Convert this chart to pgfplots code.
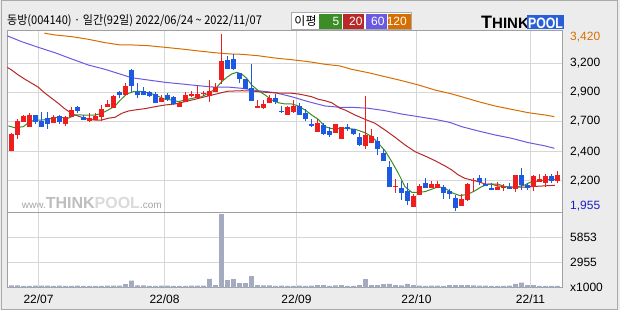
\documentclass[border=0pt]{standalone}
\usepackage{pgfplots}
\pgfplotsset{compat=1.18}
\usepackage{pgfplotstable}
\usepackage{fontspec}
\setmainfont{Liberation Sans}
\newfontfamily\kr{Noto Sans CJK KR}
\definecolor{cUp}{RGB}{238,30,30}
\definecolor{cDn}{RGB}{30,90,225}
\definecolor{cMAa}{RGB}{60,140,40}
\definecolor{cMAb}{RGB}{185,40,40}
\definecolor{cMAc}{RGB}{105,90,225}
\definecolor{cMAd}{RGB}{215,110,0}
\definecolor{cVol}{RGB}{164,171,192}
\definecolor{cGrid}{RGB}{215,215,215}
\definecolor{cFrame}{RGB}{160,160,160}
\definecolor{cBg}{RGB}{236,236,236}
\definecolor{cOuter}{RGB}{170,170,170}
\definecolor{cLow}{RGB}{30,30,200}
\definecolor{cLogo}{RGB}{40,95,215}
\definecolor{cWma}{RGB}{165,165,165}
\definecolor{cWmb}{RGB}{190,190,190}
\definecolor{cWmc}{RGB}{218,218,218}

\pgfplotstableread{
i o h l c
0 2449 2596 2447 2588
1 2580 2710 2544 2699
2 2688 2746 2688 2738
3 2649 2763 2649 2744
7 2680 2746 2680 2730
9 2669 2738 2657 2727
10 2727 2810 2727 2788
13 2699 2760 2690 2719
14 2704 2760 2704 2738
15 2727 2829 2699 2793
16 2810 2871 2810 2838
17 2802 2913 2802 2904
19 2913 3015 2913 2987
25 2857 2913 2857 2885
28 2815 2854 2815 2843
29 2857 2937 2857 2910
30 2907 2948 2895 2918
31 2890 2987 2885 2918
32 2921 2946 2904 2929
33 2907 3037 2857 2946
34 2937 3010 2937 2977
35 3037 3420 3004 3195
41 2807 2871 2807 2821
42 2804 2871 2796 2838
43 2843 2910 2843 2888
46 2749 2821 2749 2810
47 2774 2871 2765 2821
51 2605 2710 2605 2682
54 2599 2671 2599 2669
55 2549 2649 2549 2649
59 2488 2904 2463 2577
60 2516 2632 2516 2569
64 2145 2214 2100 2158
67 1983 2089 1983 2072
68 2083 2172 2083 2155
70 2139 2194 2139 2172
71 2139 2194 2139 2172
75 1992 2086 1992 2047
76 2039 2180 2033 2175
77 2197 2219 2108 2208
81 2120 2186 2120 2147
82 2139 2170 2114 2150
84 2128 2247 2108 2247
87 2147 2244 2116 2239
88 2191 2253 2189 2214
89 2183 2253 2150 2239
91 2200 2280 2180 2247
}\upT

\pgfplotstableread{
i o h l c
4 2744 2744 2669 2690
5 2699 2774 2646 2646
6 2721 2771 2630 2671
8 2738 2746 2669 2690
11 2815 2821 2765 2782
12 2727 2746 2704 2704
18 2937 2948 2885 2915
20 3120 3131 2940 2990
21 2940 3015 2885 2910
22 2946 2977 2910 2910
23 2937 2948 2898 2907
24 2918 2937 2843 2843
26 2913 2927 2865 2879
27 2893 2904 2827 2835
36 3204 3237 3131 3131
37 3212 3254 3120 3129
38 3098 3098 3010 3048
39 3046 3046 2960 2960
40 2971 3170 2865 2865
44 2888 2921 2838 2854
45 2782 2821 2760 2774
48 2821 2843 2749 2749
49 2760 2793 2699 2710
50 2671 2710 2649 2657
52 2660 2682 2582 2591
53 2613 2649 2566 2580
56 2646 2669 2613 2627
57 2630 2630 2580 2588
58 2561 2594 2488 2499
61 2527 2561 2416 2466
62 2427 2463 2366 2366
63 2313 2363 2150 2150
65 2139 2197 2039 2097
66 2111 2183 2000 2033
69 2180 2222 2139 2139
72 2145 2166 2050 2100
73 2111 2133 2045 2089
74 2058 2081 1950 1970
78 2222 2247 2164 2189
79 2175 2224 2155 2158
80 2141 2180 2120 2120
83 2150 2178 2128 2128
85 2247 2305 2120 2161
86 2164 2180 2122 2141
90 2239 2255 2178 2197
}\dnT

\pgfplotstableread{
i v
0 270
1 270
2 200
3 200
4 230
5 230
6 230
7 200
8 230
9 200
10 200
11 230
12 200
13 200
14 200
15 200
16 230
17 230
18 230
19 400
20 810
21 270
22 270
23 200
24 200
25 230
26 230
27 200
28 200
29 200
30 230
31 230
32 230
33 1010
34 300
35 8540
36 890
37 1000
38 540
39 540
40 1350
41 300
42 270
43 270
44 200
45 230
46 200
47 200
48 230
49 200
50 230
51 300
52 300
53 200
54 270
55 300
56 200
57 200
58 300
59 1000
60 300
61 300
62 400
63 430
64 300
65 270
66 430
67 300
68 230
69 200
70 230
71 230
72 200
73 300
74 300
75 300
76 300
77 270
78 230
79 230
80 200
81 200
82 200
83 230
84 430
85 600
86 300
87 300
88 200
89 200
90 200
91 200
}\volT

\pgfplotsset{chart/.style={
  scale only axis, width=554.5pt,
  xmin=-0.67, xmax=91.75, enlargelimits=false,
  axis line style={draw=cFrame, line width=1pt},
  xmajorgrids, ymajorgrids,
  grid style={draw=cGrid, line width=1pt},
  major tick length=0pt,
  xtick={4.5,25.5,47.5,67.5,86.5},
  yticklabel pos=right,
  tick label style={font=\fontsize{12}{14}\selectfont, inner sep=0pt},
  yticklabel style={anchor=west, xshift=8pt},
}}

\begin{document}
\begin{tikzpicture}
\useasboundingbox (0,0) rectangle (620pt,310pt);
\fill[cBg] (0,0) rectangle (620pt,310pt);
\draw[cOuter, line width=1pt] (1.5pt,0.8pt) rectangle (617pt,309.2pt);
\fill[white] (7.5pt,22.3pt) rectangle (562pt,279pt);

% title
\node[anchor=west, inner sep=0pt, font=\kr\fontsize{12}{14}\selectfont, xscale=0.92] at (7pt,289pt)
  {동방(004140) · 일간(92일) 2022/06/24 \textasciitilde\ 2022/11/07};

% legend
\draw[cOuter, fill=white, line width=1pt] (291pt,280pt) rectangle (411.5pt,297pt);
\fill[cMAa] (319pt,280.7pt) rectangle (341.7pt,296.3pt);
\fill[cMAb] (342.7pt,280.7pt) rectangle (364.3pt,296.3pt);
\fill[cMAc] (365.7pt,280.7pt) rectangle (386.7pt,296.3pt);
\fill[cMAd] (387.7pt,280.7pt) rectangle (410.7pt,296.3pt);
\node[inner sep=0pt, font=\kr\fontsize{12}{14}\selectfont] at (305.5pt,288.5pt) {이평};
\node[anchor=east, inner sep=0pt, text=white, font=\fontsize{12}{14}\selectfont] at (339.5pt,288.5pt) {5};
\node[anchor=east, inner sep=0pt, text=white, font=\fontsize{12}{14}\selectfont] at (362.7pt,288.5pt) {20};
\node[anchor=east, inner sep=0pt, text=white, font=\fontsize{12}{14}\selectfont] at (384.7pt,288.5pt) {60};
\node[anchor=east, inner sep=0pt, text=white, font=\fontsize{12}{14}\selectfont] at (407pt,288.5pt) {120};

% logo
\node[anchor=base west, inner sep=0pt, font=\bfseries] at (481pt,281.7pt)
  {{\fontsize{18}{18}\selectfont T}{\fontsize{15}{15}\selectfont HINK}};
\fill[cLogo] (527pt,280.7pt) rectangle (564pt,295pt);
\node[anchor=base, inner sep=0pt, text=white, font=\bfseries\fontsize{15}{15}\selectfont, xscale=0.82] at (545.5pt,281.9pt) {POOL};

% watermark
\node[anchor=base west, inner sep=0pt] at (21.7pt,101.5pt)
  {\textcolor{cWma}{\fontsize{10}{10}\selectfont www.}\textcolor{cWmb}{\bfseries\fontsize{16}{16}\selectfont THINK}\textcolor{cWmc}{\bfseries\fontsize{16}{16}\selectfont POOL}\textcolor{cWma}{\fontsize{10}{10}\selectfont .com}};

% price panel
\begin{axis}[chart,
  at={(7.5pt,97.3pt)}, anchor=south west, height=181.7pt,
  ymin=1933, ymax=3445,
  xticklabels={},
  ytick={2199,2441,2696,2935,3176},
  yticklabels={{2,200},{2,400},{2,700},{2,900},{3,200}},
  extra y ticks={1989,3392},
  extra y tick labels={{\textcolor{cLow}{1,955}},{\textcolor{cMAd}{3,420}}},
  extra y tick style={grid=none},
]
\addplot[cMAd, line width=1pt] coordinates {
(5.47,3427)(7.25,3412)(10.03,3398)(12.8,3376)(15.58,3348)(18.08,3329)(20.03,3329)(22.8,3323)(25.58,3309)(28.37,3295)(31.13,3279)(33.92,3264)(36.42,3254)(38.37,3251)(41.13,3239)(43.92,3220)(46.7,3206)(49.47,3190)(52.25,3168)(54.75,3154)(56.7,3126)(59.47,3098)(62.25,3065)(65.03,3032)(67.8,2996)(70.58,2954)(73.08,2925)(75.03,2898)(77.8,2857)(80.58,2821)(83.37,2793)(86.13,2765)(88.92,2746)(90.47,2732)};
\addplot[cMAc, line width=1pt] coordinates {
(-1.08,3412)(1.7,3356)(4.47,3309)(7.25,3264)(10.03,3212)(12.8,3162)(15.58,3126)(18.08,3087)(20.03,3056)(22.8,3037)(25.58,3018)(28.37,3004)(31.13,2990)(33.92,2977)(36.42,2977)(38.37,2968)(41.13,2948)(43.92,2932)(46.7,2898)(49.47,2857)(52.25,2821)(54.75,2810)(56.7,2810)(59.47,2802)(62.25,2782)(65.03,2754)(67.8,2732)(70.58,2710)(73.08,2684)(75.03,2649)(77.8,2613)(80.58,2580)(83.37,2552)(86.13,2516)(88.92,2489)(90.47,2469)};
\addplot[cMAb, line width=1pt] coordinates {
(-1.08,3154)(0.03,3120)(1.13,3079)(2.25,3043)(3.37,3010)(4.47,2977)(5.58,2927)(6.7,2885)(7.8,2843)(8.92,2796)(9.75,2769)(10.58,2746)(11.7,2727)(12.8,2710)(13.92,2704)(15.03,2704)(16.13,2719)(17.25,2727)(18.37,2760)(19.47,2779)(20.58,2788)(22.25,2799)(23.92,2815)(25.58,2829)(27.25,2838)(28.92,2857)(30.58,2877)(32.25,2898)(33.92,2918)(35.03,2932)(36.08,2944)(38.37,2948)(40.03,2946)(41.7,2937)(43.37,2932)(45.03,2927)(46.7,2927)(47.8,2921)(48.92,2910)(50.03,2898)(51.13,2877)(52.25,2865)(53.37,2848)(53.92,2830)(54.75,2802)(55.58,2788)(57.25,2746)(58.92,2710)(60.58,2677)(62.25,2621)(63.92,2561)(65.58,2497)(67.25,2441)(68.92,2405)(70.58,2366)(72.25,2322)(73.37,2289)(74.47,2247)(75.58,2219)(76.7,2205)(77.8,2191)(78.92,2172)(80.03,2170)(81.13,2155)(82.25,2150)(83.92,2145)(85.58,2145)(86.7,2150)(88.37,2155)(90.58,2161)};
\addplot[cMAa, line width=1pt] coordinates {
(-0.53,2655)(0.58,2640)(1.97,2649)(2.97,2688)(3.92,2704)(5.03,2704)(6.13,2710)(7.25,2727)(8.37,2724)(9.47,2719)(10.58,2746)(11.7,2746)(13.08,2744)(13.92,2746)(15.03,2760)(16.13,2788)(17.25,2821)(18.08,2867)(19.2,2921)(20.3,2940)(21.42,2943)(22.8,2932)(23.92,2913)(25.58,2877)(26.7,2871)(27.8,2857)(28.92,2871)(30.58,2890)(31.7,2898)(32.8,2927)(33.92,2960)(35.03,3023)(35.9,3060)(36.7,3087)(37.53,3101)(38.37,3087)(39.2,3051)(40.03,2996)(41.13,2948)(42.25,2913)(43.37,2871)(44.47,2848)(45.58,2838)(46.7,2838)(47.8,2821)(48.92,2788)(50.03,2746)(51.13,2710)(52.25,2649)(53.37,2632)(54.75,2634)(55.58,2636)(57.25,2627)(58.92,2599)(60.03,2566)(61.13,2511)(62.25,2449)(63.37,2358)(64.47,2261)(65.58,2150)(66.7,2103)(67.8,2103)(68.92,2108)(70.03,2128)(71.13,2150)(72.25,2136)(73.37,2100)(74.75,2075)(76.13,2087)(77.25,2116)(78.37,2150)(79.47,2170)(81.13,2170)(82.25,2150)(83.37,2145)(84.47,2150)(85.58,2164)(86.42,2186)(87.25,2191)(88.92,2205)(91,2213)};
% wicks
\addplot[draw=none, mark=none, forget plot,
  error bars/.cd, y dir=plus, y explicit, error mark=none,
  error bar style={draw=cUp, line width=1pt}]
  table[x=i, y=l, y error plus expr=\thisrow{h}-\thisrow{l}] {\upT};
\addplot[draw=none, mark=none, forget plot,
  error bars/.cd, y dir=plus, y explicit, error mark=none,
  error bar style={draw=cDn, line width=1pt}]
  table[x=i, y=l, y error plus expr=\thisrow{h}-\thisrow{l}] {\dnT};
% bodies
\addplot[draw=none, mark=none, forget plot,
  error bars/.cd, y dir=plus, y explicit, error mark=none,
  error bar style={draw=cUp, line width=5pt}]
  table[x=i, y=o, y error plus expr={max(\thisrow{c}-\thisrow{o},9)}] {\upT};
\addplot[draw=none, mark=none, forget plot,
  error bars/.cd, y dir=plus, y explicit, error mark=none,
  error bar style={draw=cDn, line width=5pt}]
  table[x=i, y=c, y error plus expr={max(\thisrow{o}-\thisrow{c},9)}] {\dnT};
\end{axis}

% volume panel
\begin{axis}[chart,
  at={(7.5pt,22.3pt)}, anchor=south west, height=75pt,
  ymin=0, ymax=8692,
  xticklabels={22/07,22/08,22/09,22/10,22/11},
  xticklabel style={anchor=center, yshift=-11.5pt},
  ytick={0,2955,5853},
  yticklabels={x1000,2955,5853},
]
\addplot[ybar, bar width=4.6pt, fill=cVol, draw=none] table[x=i, y=v] {\volT};
\end{axis}
\end{tikzpicture}
\end{document}
